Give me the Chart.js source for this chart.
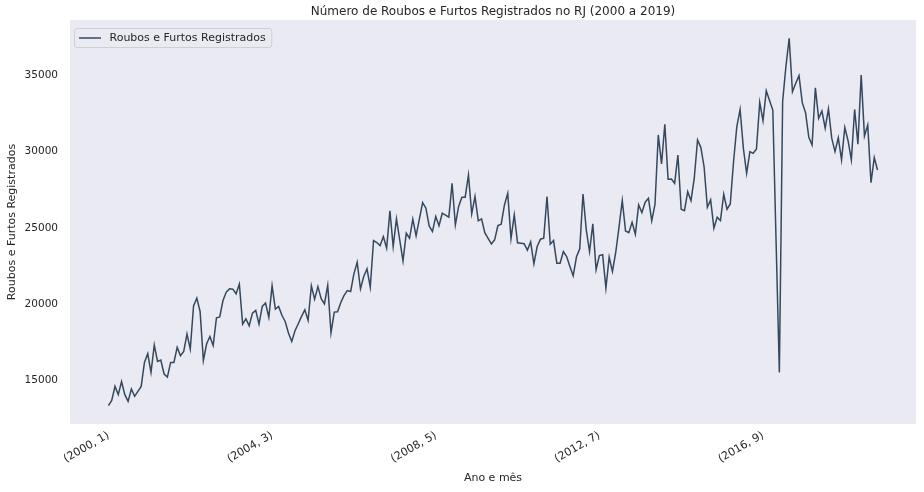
<!DOCTYPE html>
<html>
<head>
<meta charset="utf-8">
<script src="https://cdn.jsdelivr.net/npm/chart.js@4.4.1/dist/chart.umd.min.js"></script>
<style>
	body { margin: 0; background: #ffffff; }
	canvas { display: block; }
</style>
</head>
<body>
<canvas id="grafico" width="924" height="492"></canvas>
<script>
// Roubos e furtos registrados por mes, jan/2000 a ago/2019
var valores = [
	13370, 13710, 14630, 14090, 14940, 14090, 13650, 14460, 13980, 14300, 14630, 16200,
	16770, 15550, 17330, 16260, 16350, 15440, 15240, 16200, 16200, 17180, 16640, 16920,
	18050, 17070, 19900, 20400, 19530, 16330, 17420, 17900, 17300, 19120, 19170, 20250,
	20800, 21010, 20990, 20690, 21320, 18700, 19050, 18600, 19420, 19600, 18700, 19860,
	20080, 19140, 21210, 19690, 19860, 19280, 18880, 18120, 17570, 18270, 18730, 19210,
	19640, 18940, 21210, 20340, 21160, 20370, 20030, 21250, 18140, 19490, 19510, 20120,
	20580, 20900, 20840, 21990, 22750, 21010, 21820, 22320, 21120, 24170, 24040, 23840,
	24430, 23670, 26110, 23780, 25590, 24220, 22840, 24650, 24320, 25570, 24480, 25570,
	26660, 26290, 25130, 24760, 25740, 25140, 25960, 25830, 25700, 27920, 25200, 26400,
	27010, 27010, 28460, 25920, 27050, 25460, 25590, 24690, 24320, 23950, 24220, 25150,
	25240, 26500, 27260, 24300, 25850, 24020, 24000, 23960, 23540, 24080, 22650, 23780,
	24260, 24330, 27050, 23930, 24170, 22690, 22690, 23450, 23120, 22470, 21860, 23090,
	23630, 27220, 24870, 23450, 25260, 22260, 23190, 23240, 21060, 23090, 22150, 23390,
	25050, 26790, 24800, 24690, 25360, 24580, 26500, 26000, 26680, 26940, 25460, 26530,
	31080, 29180, 31780, 28180, 28200, 27920, 29770, 26220, 26130, 27370, 26780, 28250,
	30750, 30270, 29000, 26350, 26830, 24980, 25700, 25480, 27200, 26220, 26570, 29330,
	31620, 32750, 30210, 28570, 29990, 29880, 30160, 33210, 32010, 33970, 33340, 32710,
	24100, 15540, 33270, 35560, 37400, 33910, 34460, 34960, 33190, 32540, 30930, 30420,
	34170, 32170, 32650, 31520, 32780, 30870, 29990, 30900, 29450, 31570, 30690, 29450,
	32750, 30470, 35000, 31010, 31730, 27960, 29600, 28790
];
var anoInicial = 2000;
var posicoesX = [0, 50, 100, 150, 200];
var ticksY = [15000, 20000, 25000, 30000, 35000];

// categorias (ano, mes)
var meses = [];
for (var i = 0; i < valores.length; i++)
	meses.push('(' + (anoInicial + Math.floor(i / 12)) + ', ' + (i % 12 + 1) + ')');

var pontos = valores.map(function (v, i) { return {x: i, y: v}; });

var fonte = 'DejaVu Sans';
var corTexto = '#262626';
var corLinha = '#34495e';

var minY = Math.min.apply(null, valores), maxY = Math.max.apply(null, valores);
var margemY = (maxY - minY) * 0.05;
var margemX = (valores.length - 1) * 0.05;

var fundo = {
	id: 'fundo',
	beforeDraw: function (chart)
	{
		var a = chart.chartArea, ctx = chart.ctx;
		ctx.save();
		ctx.fillStyle = '#eaeaf2';
		ctx.fillRect(a.left, a.top, a.right - a.left, a.bottom - a.top);
		ctx.restore();
	}
};

var extras = {
	id: 'extras',
	afterDraw: function (chart)
	{
		var a = chart.chartArea, ctx = chart.ctx;
		ctx.save();
		// titulo
		ctx.fillStyle = corTexto;
		ctx.font = '12px "' + fonte + '"';
		ctx.textAlign = 'center';
		ctx.textBaseline = 'middle';
		ctx.fillText('Número de Roubos e Furtos Registrados no RJ (2000 a 2019)', (a.left + a.right) / 2, 12);

		// legenda
		var ds = chart.data.datasets[0];
		ctx.font = '11px "' + fonte + '"';
		var largura = ctx.measureText(ds.label).width;
		var x = a.left + 4.5, y = a.top + 8.5, w = largura + 41, h = 19;
		ctx.beginPath();
		ctx.roundRect(x, y, w, h, 2.5);
		ctx.fillStyle = 'rgba(234,234,242,0.8)';
		ctx.fill();
		ctx.strokeStyle = '#cfcfd6';
		ctx.lineWidth = 1;
		ctx.stroke();
		ctx.beginPath();
		ctx.moveTo(x + 4.5, y + 9.5);
		ctx.lineTo(x + 26.5, y + 9.5);
		ctx.strokeStyle = ds.borderColor;
		ctx.lineWidth = 1.5;
		ctx.stroke();
		ctx.fillStyle = corTexto;
		ctx.textAlign = 'left';
		ctx.fillText(ds.label, x + 35, y + 9.5);
		ctx.restore();
	}
};

new Chart(document.getElementById('grafico').getContext('2d'), {
	type: 'line',
	data: {
		datasets: [{
			label: 'Roubos e Furtos Registrados',
			data: pontos,
			borderColor: corLinha,
			borderWidth: 1.5,
			pointRadius: 0,
			tension: 0,
			fill: false
		}]
	},
	options: {
		responsive: false,
		animation: false,
		devicePixelRatio: 1,
		layout: { padding: { top: 20, right: 8, left: 0, bottom: 0 } },
		plugins: {
			legend: { display: false },
			title: { display: false },
			tooltip: { enabled: false }
		},
		scales: {
			x: {
				type: 'linear',
				min: -margemX,
				max: valores.length - 1 + margemX,
				grid: { display: false, drawTicks: false },
				border: { display: false },
				afterBuildTicks: function (s) { s.ticks = posicoesX.map(function (v) { return {value: v}; }); },
				afterFit: function (s) { s.height = 68; },
				ticks: {
					autoSkip: false,
					minRotation: 30,
					maxRotation: 30,
					padding: 5,
					color: corTexto,
					font: { family: fonte, size: 11 },
					callback: function (v) { return meses[v]; }
				},
				title: {
					display: true,
					text: 'Ano e mês',
					color: corTexto,
					font: { family: fonte, size: 11 },
					padding: { top: 0, bottom: 7.4 }
				}
			},
			y: {
				min: minY - margemY,
				max: maxY + margemY,
				grid: { display: false, drawTicks: false },
				border: { display: false },
				afterBuildTicks: function (s) { s.ticks = ticksY.map(function (v) { return {value: v}; }); },
				afterFit: function (s) { s.width = 70; },
				ticks: {
					padding: 12,
					color: corTexto,
					font: { family: fonte, size: 10.5 },
					callback: function (v) { return String(v); }
				},
				title: {
					display: true,
					text: 'Roubos e Furtos Registrados',
					color: corTexto,
					font: { family: fonte, size: 11 },
					padding: { top: 5.4, bottom: 0 }
				}
			}
		}
	},
	plugins: [fundo, extras]
});
</script>
</body>
</html>
